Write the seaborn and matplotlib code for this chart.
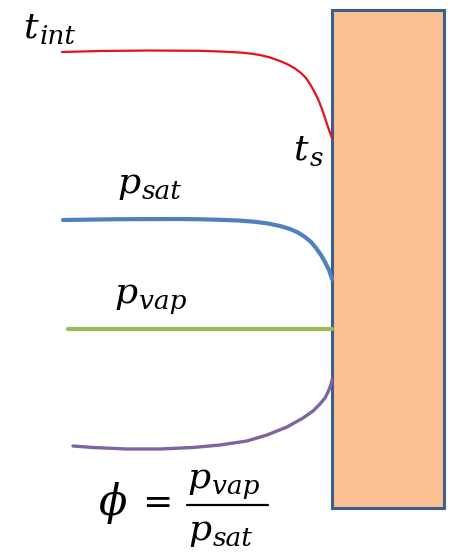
import matplotlib
matplotlib.use("Agg")
import matplotlib.pyplot as plt
import seaborn as sns
import pandas as pd
from matplotlib.patches import Rectangle

# ==========================================
# Profile data (image units: x to the right, y downward)
# ==========================================
t_x = [62, 100, 150, 200, 220, 240, 250, 260, 270, 280, 288, 295, 301, 306, 310, 314, 318, 322, 326, 329, 332]
t_y = [52, 51, 50.5, 50.8, 51.5, 52.5, 53.5, 55, 57.5, 61, 64.5, 68.5, 73, 78, 84, 91, 99, 109, 121, 130, 138]

psat_x = [63, 120, 180, 200, 220, 240, 255, 268, 280, 290, 298, 305, 311, 316, 321, 325, 329, 332]
psat_y = [220, 219.2, 219, 219.3, 219.8, 220.6, 221.8, 223.5, 226, 229, 232.5, 237, 242, 248, 255, 262, 270, 279]

pvap_x = [68, 332]
pvap_y = [329, 329]

phi_x = [73, 93, 127, 160, 193, 220, 247, 267, 287, 303, 313, 320, 325, 328, 330.5, 332]
phi_y = [446, 447.5, 449, 449, 447.5, 445, 441, 435, 427, 418, 411, 404, 398, 392, 386, 380]

wall_left, wall_right = 332, 444
wall_top, wall_bottom = 10, 508

profiles = pd.concat([
    pd.DataFrame({"x": t_x, "y": t_y, "var": "t"}),
    pd.DataFrame({"x": psat_x, "y": psat_y, "var": "psat"}),
    pd.DataFrame({"x": pvap_x, "y": pvap_y, "var": "pvap"}),
    pd.DataFrame({"x": phi_x, "y": phi_y, "var": "phi"}),
])

colors = {"t": "#e8101a", "psat": "#4f81bd", "pvap": "#9bbb59", "phi": "#8064a2"}
widths = {"t": 1.6, "psat": 3.0, "pvap": 3.0, "phi": 2.4}

sns.set_theme(style="white")
plt.rcParams["mathtext.fontset"] = "dejavuserif"

fig = plt.figure(figsize=(4.5, 5.56), dpi=100)
ax = fig.add_axes([0, 0, 1, 1])
ax.set_xlim(0, 450)
ax.set_ylim(556, 0)
ax.axis("off")

ax.add_patch(Rectangle((wall_left, wall_top), wall_right - wall_left,
                       wall_bottom - wall_top, facecolor="#fac090",
                       edgecolor="#3a5f8f", linewidth=2.2, zorder=1))

for var, grp in profiles.groupby("var"):
    sns.lineplot(data=grp, x="x", y="y", sort=False, estimator=None,
                 color=colors[var], linewidth=widths[var], ax=ax, zorder=3,
                 solid_capstyle="round", solid_joinstyle="round")

renderer = fig.canvas.get_renderer()


def sub_label(x, y, main, sub, size=26, sub_size=19, drop=6, gap=2):
    # italic symbol with a larger-than-mathtext subscript
    t = ax.text(x, y, main, fontsize=size, family="DejaVu Serif",
                style="italic", color="black")
    bb = t.get_window_extent(renderer).transformed(ax.transData.inverted())
    ax.text(bb.x1 + gap, y + drop, sub, fontsize=sub_size,
            family="DejaVu Serif", style="italic", color="black")


sub_label(23, 38, "t", "int")
sub_label(293, 160, "t", "s")
sub_label(117, 193, "p", "sat")
sub_label(114, 303, "p", "vap")

# relative humidity definition
ax.text(98, 503, r"$\phi$", fontsize=30, va="center", color="black")
ax.text(142, 503, "=", fontsize=26, family="DejaVu Serif", va="center", color="black")
ax.plot([187, 268], [505, 505], color="black", linewidth=1.6)
sub_label(187, 488, "p", "vap")
sub_label(188, 540, "p", "sat")

fig.savefig("out.png", dpi=100)
